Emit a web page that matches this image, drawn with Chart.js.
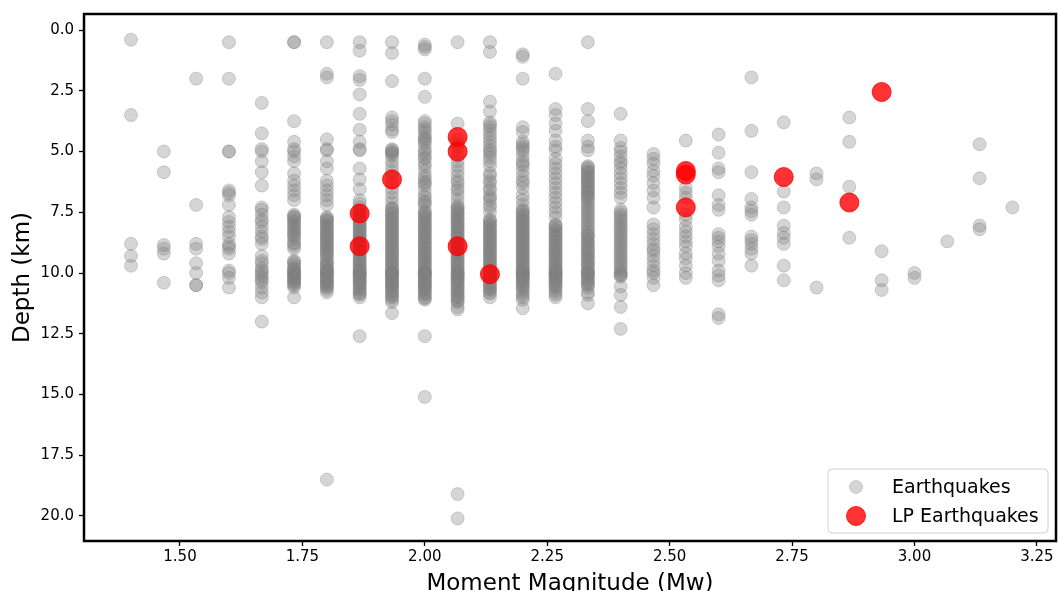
<!DOCTYPE html>
<html>
<head>
<meta charset="utf-8">
<script src="https://cdn.jsdelivr.net/npm/chart.js@4.4.1/dist/chart.umd.min.js"></script>
<style>
  html, body { margin: 0; padding: 0; background: #fff; overflow: hidden; }
  canvas { display: block; }
</style>
</head>
<body>
<canvas id="depthChart" width="1058" height="602"></canvas>
<script>
// depth (km) of ordinary earthquakes, one list per magnitude bin
const mw140 = [0.4, 3.5, 8.8, 9.3, 9.7];
const mw147 = [5.0, 5.85, 8.85, 9.0, 9.2, 10.4];
const mw153 = [2.0, 7.2, 8.8, 9.0, 9.6, 10.0, 10.5, 10.5];
const mw160 = [0.5, 2.0, 5.0, 5.0, 6.6, 6.7, 6.8, 7.2, 7.7, 7.9, 8.1, 8.3, 8.5, 8.8, 8.9, 9.0, 9.2, 9.9, 10.0, 10.2, 10.6];
const mw167 = [3.0, 4.25, 4.9, 5.0, 5.4, 5.85, 6.4, 7.3, 7.4, 7.6, 7.8, 7.9, 8.1, 8.3, 8.5, 8.6, 8.8, 9.3, 9.5, 9.6, 9.8, 9.9, 10.0, 10.1, 10.2, 10.3, 10.4, 10.6, 10.8, 11.0, 12.0];
const mw173 = [0.5, 0.5, 3.75, 4.6, 4.9, 5.0, 5.2, 5.4, 5.9, 6.2, 6.4, 6.6, 6.8, 7.0, 7.6, 7.7, 7.9, 8.0, 8.2, 8.3, 8.5, 8.6, 8.8, 8.9, 9.0, 9.5, 9.6, 9.8, 9.9, 10.0, 10.0, 10.1, 10.2, 10.3, 10.4, 10.5, 10.6, 11.0,
  7.65, 7.75, 7.85, 8.05, 8.15, 8.35, 8.45, 8.75, 9.55, 9.7, 9.85, 9.95, 10.05, 10.15, 10.25, 10.35, 10.45];
const mw180 = [0.5, 1.8, 1.95, 4.5, 4.9, 4.95, 5.4, 5.7, 6.2, 6.4, 6.6, 6.8, 7.0, 7.2, 7.7, 7.8, 7.9, 8.0, 8.1, 8.2, 8.3, 8.4, 8.5, 8.6, 8.7, 8.8, 8.9, 9.0, 9.1, 9.2, 9.3, 9.5, 9.6, 9.7, 9.8, 9.9, 10.0, 10.0, 10.1, 10.2, 10.3, 10.4, 10.5, 10.6, 10.7, 10.8, 18.5,
  7.75, 7.85, 8.05, 8.25, 8.45, 8.65, 8.85, 9.05, 9.25, 9.45, 9.65, 9.85, 9.95, 10.05, 10.15, 10.25, 10.35, 10.45, 10.55];
const mw187 = [0.5, 0.85, 1.9, 2.05, 2.65, 3.45, 4.1, 4.6, 4.9, 4.95, 5.7, 6.15, 6.55, 7.0, 7.5, 7.6, 7.7, 7.8, 7.9, 8.0, 8.1, 8.2, 8.3, 8.4, 8.5, 8.6, 8.7, 8.8, 8.9, 9.0, 9.1, 9.2, 9.3, 9.4, 9.5, 9.6, 9.7, 9.8, 9.9, 10.0, 10.0, 10.1, 10.2, 10.3, 10.4, 10.5, 10.6, 10.7, 10.8, 10.9, 11.0, 12.6,
  7.15, 7.3, 7.45, 7.65, 7.85, 8.05, 8.25, 8.45, 8.65, 8.85, 9.05, 9.25, 9.45, 9.65, 9.85, 9.95, 10.05, 10.15, 10.25, 10.35, 10.45, 10.65, 10.85];
const mw193 = [0.5, 0.95, 2.1, 3.6, 3.75, 3.9, 4.1, 4.2, 4.9, 4.95, 5.0, 5.1, 5.2, 5.4, 5.6, 5.8, 6.0, 6.3, 6.5, 6.7, 6.9, 7.1, 7.3, 7.4, 7.5, 7.6, 7.7, 7.8, 7.9, 8.0, 8.1, 8.2, 8.3, 8.4, 8.5, 8.6, 8.7, 8.8, 8.9, 9.0, 9.1, 9.2, 9.3, 9.4, 9.5, 9.6, 9.7, 9.8, 9.9, 10.0, 10.0, 10.0, 10.1, 10.2, 10.3, 10.4, 10.5, 10.6, 10.7, 10.8, 10.9, 11.0, 11.1, 11.2, 11.65,
  5.05, 7.35, 7.55, 7.75, 7.95, 8.15, 8.35, 8.55, 8.75, 8.95, 9.15, 9.35, 9.55, 9.75, 9.95, 10.05, 10.15, 10.25, 10.35, 10.45, 10.55, 10.75, 10.95];
const mw200 = [0.6, 0.7, 0.8, 2.0, 2.75, 3.75, 3.85, 4.0, 4.1, 4.2, 4.35, 4.5, 4.6, 4.7, 4.9, 5.0, 5.1, 5.3, 5.5, 5.6, 5.8, 6.0, 6.1, 6.3, 6.4, 6.6, 6.8, 6.9, 7.1, 7.2, 7.4, 7.5, 7.6, 7.7, 7.8, 7.9, 8.0, 8.1, 8.2, 8.3, 8.4, 8.5, 8.6, 8.7, 8.8, 8.9, 9.0, 9.1, 9.2, 9.3, 9.4, 9.5, 9.6, 9.7, 9.8, 9.9, 10.0, 10.0, 10.0, 10.1, 10.2, 10.3, 10.4, 10.5, 10.6, 10.7, 10.8, 10.9, 11.0, 11.1, 12.6, 15.1,
  4.45, 5.25, 6.25, 7.05, 7.55, 7.75, 7.95, 8.15, 8.35, 8.55, 8.75, 8.95, 9.15, 9.35, 9.55, 9.75, 9.95, 10.05, 10.15, 10.25, 10.35, 10.45, 10.55, 10.65, 10.85, 11.05];
const mw207 = [0.5, 3.85, 4.5, 4.7, 4.8, 5.2, 5.4, 5.6, 5.8, 6.0, 6.2, 6.3, 6.5, 6.6, 6.8, 7.0, 7.2, 7.3, 7.4, 7.5, 7.6, 7.7, 7.8, 7.9, 8.0, 8.1, 8.2, 8.3, 8.4, 8.5, 8.6, 8.7, 8.8, 8.9, 9.0, 9.1, 9.2, 9.3, 9.4, 9.5, 9.6, 9.7, 9.8, 9.9, 10.0, 10.0, 10.1, 10.2, 10.3, 10.4, 10.5, 10.6, 10.7, 10.8, 10.9, 11.0, 11.1, 11.2, 11.4, 11.5, 19.1, 20.1,
  7.35, 7.55, 7.75, 7.95, 8.15, 8.35, 8.55, 8.75, 8.95, 9.15, 9.35, 9.55, 9.75, 9.95, 10.05, 10.15, 10.25, 10.35, 10.55, 10.75, 10.95, 11.15];
const mw213 = [0.5, 0.9, 2.95, 3.35, 3.8, 3.9, 4.0, 4.15, 4.3, 4.45, 4.6, 4.75, 4.9, 5.0, 5.1, 5.25, 5.4, 5.6, 5.9, 6.0, 6.2, 6.3, 6.5, 6.6, 6.8, 6.9, 7.0, 7.2, 7.3, 7.5, 7.8, 7.9, 8.0, 8.1, 8.2, 8.3, 8.4, 8.5, 8.6, 8.7, 8.8, 8.9, 9.0, 9.1, 9.2, 9.3, 9.4, 9.5, 9.6, 9.7, 9.8, 9.9, 10.0, 10.0, 10.1, 10.2, 10.3, 10.4, 10.5, 10.6, 10.7, 10.8, 11.0,
  7.85, 8.05, 8.25, 8.45, 8.65, 8.85, 9.05, 9.25, 9.45, 9.65, 9.85, 9.95, 10.05, 10.15, 10.25, 10.45, 10.65, 10.85];
const mw220 = [1.0, 1.1, 2.0, 4.0, 4.2, 4.6, 4.7, 4.8, 4.9, 5.0, 5.2, 5.4, 5.5, 5.6, 5.8, 6.0, 6.2, 6.3, 6.5, 6.8, 7.0, 7.2, 7.4, 7.5, 7.6, 7.7, 7.8, 7.9, 8.0, 8.1, 8.2, 8.3, 8.4, 8.5, 8.6, 8.7, 8.8, 8.9, 9.0, 9.1, 9.2, 9.3, 9.4, 9.5, 9.6, 9.7, 9.8, 9.9, 10.0, 10.0, 10.1, 10.2, 10.3, 10.4, 10.5, 10.6, 10.7, 10.8, 10.9, 11.0, 11.1, 11.45,
  7.45, 7.65, 7.85, 8.05, 8.25, 8.45, 8.65, 8.85, 9.05, 9.25, 9.45, 9.65, 9.85, 9.95, 10.05, 10.15, 10.25, 10.35, 10.55];
const mw227 = [1.8, 3.25, 3.5, 3.85, 4.15, 4.55, 4.8, 4.95, 5.3, 5.5, 5.7, 5.9, 6.1, 6.3, 6.5, 6.7, 6.9, 7.1, 7.3, 7.5, 7.7, 8.0, 8.1, 8.2, 8.3, 8.4, 8.5, 8.6, 8.7, 8.8, 8.9, 9.0, 9.1, 9.2, 9.3, 9.4, 9.5, 9.6, 9.7, 9.8, 9.9, 10.0, 10.0, 10.1, 10.2, 10.3, 10.4, 10.5, 10.6, 10.7, 10.8, 10.9, 11.0,
  8.05, 8.25, 8.45, 8.65, 8.85, 9.05, 9.25, 9.45, 9.65, 9.85, 9.95, 10.05, 10.15, 10.25, 10.35, 10.55];
const mw233 = [0.5, 3.25, 3.75, 4.55, 4.8, 4.95, 5.6, 5.7, 5.8, 5.9, 6.0, 6.1, 6.2, 6.3, 6.4, 6.5, 6.6, 6.7, 6.8, 6.9, 7.0, 7.2, 7.4, 7.6, 7.8, 8.0, 8.2, 8.3, 8.4, 8.5, 8.6, 8.7, 8.8, 8.9, 9.0, 9.1, 9.2, 9.3, 9.4, 9.5, 9.6, 9.7, 9.8, 9.9, 10.0, 10.0, 10.1, 10.2, 10.3, 10.4, 10.5, 10.6, 10.8, 10.9, 11.25,
  5.65, 5.85, 6.05, 6.25, 6.45, 6.65, 6.85, 7.1, 7.3, 7.5, 7.7, 7.9, 8.1, 8.45, 8.75, 9.05, 9.35, 9.65, 9.95, 10.05, 10.25, 10.45];
const mw240 = [3.45, 4.55, 4.85, 5.0, 5.2, 5.4, 5.5, 5.7, 5.9, 6.1, 6.3, 6.5, 6.7, 6.9, 7.4, 7.6, 7.8, 8.0, 8.2, 8.4, 8.5, 8.6, 8.8, 9.0, 9.1, 9.2, 9.4, 9.5, 9.6, 9.8, 9.9, 10.0, 10.1, 10.15, 10.55, 10.9, 11.4, 12.3,
  7.5, 7.7, 7.9, 8.1, 8.3, 8.7, 8.9, 9.3, 9.7, 10.05];
const mw247 = [5.1, 5.3, 5.5, 5.8, 6.0, 6.3, 6.6, 6.9, 7.3, 8.0, 8.2, 8.4, 8.6, 8.8, 9.0, 9.1, 9.3, 9.5, 9.7, 9.9, 10.0, 10.2, 10.5];
const mw253 = [4.55, 6.5, 6.7, 6.9, 7.6, 7.8, 8.1, 8.3, 8.5, 8.7, 8.9, 9.2, 9.4, 9.7, 10.0, 10.2];
const mw260 = [4.3, 5.05, 5.7, 5.85, 6.8, 7.2, 7.4, 8.4, 8.55, 8.7, 8.9, 9.2, 9.5, 9.9, 10.1, 10.3, 11.7, 11.85];
const mw267 = [1.95, 4.15, 5.85, 6.95, 7.3, 7.45, 7.6, 8.5, 8.65, 8.8, 9.0, 9.2, 9.7];
const mw273 = [3.8, 6.65, 7.3, 8.05, 8.35, 8.55, 8.8, 9.7, 10.3];
const mw280 = [5.9, 6.15, 10.6];
const mw287 = [3.6, 4.6, 6.45, 8.55];
const mw293 = [9.1, 10.3, 10.7];
const mw300 = [10.0, 10.2];
const mw307 = [8.7];
const mw313 = [4.7, 6.1, 8.05, 8.2];
const mw320 = [7.3];

const magnitudes = [1.4, 1.467, 1.533, 1.6, 1.667, 1.733, 1.8, 1.867, 1.933, 2.0, 2.067, 2.133, 2.2, 2.267,
  2.333, 2.4, 2.467, 2.533, 2.6, 2.667, 2.733, 2.8, 2.867, 2.933, 3.0, 3.067, 3.133, 3.2];
const depthLists = [mw140, mw147, mw153, mw160, mw167, mw173, mw180, mw187, mw193, mw200, mw207, mw213, mw220, mw227,
  mw233, mw240, mw247, mw253, mw260, mw267, mw273, mw280, mw287, mw293, mw300, mw307, mw313, mw320];

// long-period events
const lpMagnitude = [1.867, 1.867, 1.933, 2.067, 2.067, 2.067, 2.133, 2.533, 2.533, 2.533, 2.733, 2.867, 2.933];
const lpDepth = [7.55, 8.9, 6.15, 4.4, 5.0, 8.9, 10.05, 5.8, 5.95, 7.3, 6.05, 7.1, 2.55];

const xTicks = [1.5, 1.75, 2.0, 2.25, 2.5, 2.75, 3.0, 3.25];
const yTicks = [0, 2.5, 5, 7.5, 10, 12.5, 15, 17.5, 20];

const eqPoints = [];
magnitudes.forEach((m, i) => {
  depthLists[i].forEach(d => eqPoints.push({ x: m, y: d }));
});
const lpPoints = lpMagnitude.map((m, i) => ({ x: m, y: lpDepth[i] }));

const GRAY = 'rgba(128,128,128,0.33)';
const RED = 'rgba(255,0,0,0.8)';

Chart.defaults.font.family = "'DejaVu Sans', sans-serif";
Chart.defaults.color = '#000';

// black box round the plot, like matplotlib spines
const framePlugin = {
  id: 'frame',
  afterDatasetsDraw(chart) {
    const { ctx, chartArea: a } = chart;
    ctx.save();
    ctx.strokeStyle = '#000';
    ctx.lineWidth = 2.5;
    ctx.strokeRect(a.left, a.top, a.right - a.left, a.bottom - a.top);
    ctx.restore();
  }
};

// legend box in the lower right corner
const boxLegend = {
  id: 'boxLegend',
  afterDraw(chart) {
    const { ctx, chartArea: a } = chart;
    const w = 220, h = 64;
    const x0 = a.right - 8 - w, y0 = a.bottom - 8 - h;
    ctx.save();
    ctx.beginPath();
    ctx.roundRect(x0, y0, w, h, 4);
    ctx.fillStyle = 'rgba(255,255,255,0.8)';
    ctx.fill();
    ctx.strokeStyle = '#d0d0d0';
    ctx.lineWidth = 1;
    ctx.stroke();

    const items = [chart.data.datasets[1], chart.data.datasets[0]];
    items.forEach((ds, i) => {
      const cy = y0 + 18 + i * 29;
      ctx.beginPath();
      ctx.arc(x0 + 28, cy, ds.pointRadius, 0, Math.PI * 2);
      ctx.fillStyle = ds.backgroundColor;
      ctx.fill();
      ctx.strokeStyle = ds.borderColor;
      ctx.stroke();
      ctx.fillStyle = '#000';
      ctx.font = "19px 'DejaVu Sans'";
      ctx.textBaseline = 'middle';
      ctx.fillText(ds.label, x0 + 64, cy + 1);
    });
    ctx.restore();
  }
};

new Chart(document.getElementById('depthChart'), {
  type: 'scatter',
  data: {
    datasets: [
      {
        label: 'LP Earthquakes',
        data: lpPoints,
        backgroundColor: RED,
        borderColor: RED,
        borderWidth: 1,
        pointRadius: 9.5,
        order: 1
      },
      {
        label: 'Earthquakes',
        data: eqPoints,
        backgroundColor: GRAY,
        borderColor: GRAY,
        borderWidth: 1,
        pointRadius: 6.5,
        order: 2
      }
    ]
  },
  options: {
    responsive: false,
    animation: false,
    events: [],
    layout: { autoPadding: false, padding: { top: 14, right: 2, left: 0, bottom: 0 } },
    plugins: {
      legend: { display: false },
      tooltip: { enabled: false }
    },
    scales: {
      x: {
        type: 'linear',
        min: 1.304,
        max: 3.289,
        afterBuildTicks: s => { s.ticks = xTicks.map(v => ({ value: v })); },
        afterFit: s => { s.height = 61; s.paddingLeft = 0; s.paddingRight = 0; },
        border: { display: false },
        grid: { drawOnChartArea: false, drawTicks: true, tickLength: 5, tickWidth: 1.3, tickColor: '#000' },
        ticks: { padding: 2, font: { size: 15 }, maxRotation: 0, callback: v => Number(v).toFixed(2) },
        title: { display: true, text: 'Moment Magnitude (Mw)', font: { size: 23 }, padding: { top: 0, bottom: 4 } }
      },
      y: {
        reverse: true,
        min: -0.66,
        max: 21.03,
        afterBuildTicks: s => { s.ticks = yTicks.map(v => ({ value: v })); },
        afterFit: s => { s.width = 84; s.paddingTop = 0; s.paddingBottom = 0; },
        border: { display: false },
        grid: { drawOnChartArea: false, drawTicks: true, tickLength: 5, tickWidth: 1.3, tickColor: '#000' },
        ticks: { padding: 5, font: { size: 15 }, callback: v => Number(v).toFixed(1) },
        title: { display: true, text: 'Depth (km)', font: { size: 23 }, padding: { top: 9, bottom: 0 } }
      }
    }
  },
  plugins: [framePlugin, boxLegend]
});
</script>
</body>
</html>
